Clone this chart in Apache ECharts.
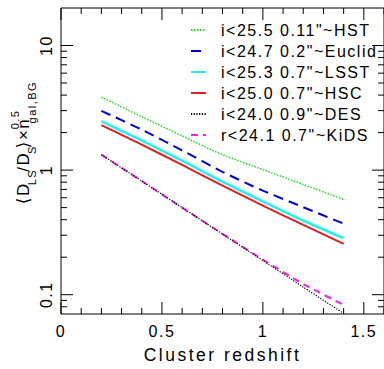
<!DOCTYPE html>
<html><head><meta charset="utf-8">
<script src="https://cdn.jsdelivr.net/npm/echarts@6/dist/echarts.min.js"></script>
<style>
html,body{margin:0;padding:0;background:#fff;}
#chart{width:384px;height:369px;}
#chart text{letter-spacing:1.5px;}
#chart text[style*="17.5px"]{letter-spacing:2.5px;}
</style></head><body><div id="chart"></div>
<script>
// ---- data ----
const redshift = [0.2, 0.4, 0.6, 0.8, 1.0, 1.2, 1.4];
const seriesNames = [
  "i<25.5 0.11\"~HST",
  "i<24.7 0.2\"~Euclid",
  "i<25.3 0.7\"~LSST",
  "i<25.0 0.7\"~HSC",
  "i<24.0 0.9\"~DES",
  "r<24.1 0.7\"~KiDS"
];
const hstValues    = [3.85, 2.68, 1.88, 1.33, 1.01, 0.767, 0.582];
const euclidValues = [2.99, 2.11, 1.44, 0.968, 0.684, 0.504, 0.372];
const lsstValues   = [2.47, 1.73, 1.19, 0.809, 0.562, 0.394, 0.284];
const hscValues    = [2.30, 1.60, 1.10, 0.750, 0.519, 0.363, 0.256];
const desValues    = [1.33, 0.817, 0.500, 0.307, 0.188, 0.115, 0.0708];
const kidsValues   = [1.33, 0.817, 0.500, 0.308, 0.191, 0.122, 0.0828];
const xTickLabels = [0, 0.5, 1, 1.5];
const yTickLabels = [0.1, 1, 10];

// ---- axis ranges ----
const X_MIN = 0, X_MAX = 1.6, Y_MIN = 0.07, Y_MAX = 20;
const FONT = "'Liberation Sans', Arial, 'DejaVu Sans', sans-serif";

// tick marks (value, isMajor, side)  side: 0 bottom,1 top,2 left,3 right
const tickData = [];
for (let i = 0; i <= 16; i++) {
  const v = i / 10;
  const major = (i % 5 === 0) ? 1 : 0;
  tickData.push([v, Y_MIN, major, 0]);
  tickData.push([v, Y_MAX, major, 1]);
}
const yMinor = [];
[0.01, 0.1, 1, 10].forEach(function (d) {
  for (let k = 1; k <= 9; k++) {
    const v = +(k * d).toPrecision(3);
    if (v > Y_MIN && v < Y_MAX) yMinor.push([v, k === 1 ? 1 : 0]);
  }
});
yMinor.forEach(function (t) {
  tickData.push([X_MIN, t[0], t[1], 2]);
  tickData.push([X_MAX, t[0], t[1], 3]);
});

function mk(name, data, color, width, dash, z) {
  return {
    name: name, type: 'line', data: redshift.map(function (x, i) { return [x, data[i]]; }),
    showSymbol: false, symbol: 'none', smooth: 0.25, z: z,
    lineStyle: { color: color, width: width, type: dash },
    itemStyle: { color: color }
  };
}

const chart = echarts.init(document.getElementById('chart'), null, { renderer: 'svg' });
chart.setOption({
  animation: false,
  backgroundColor: '#fff',
  grid: { left: 61, top: 8, width: 325.3, height: 312.7, show: true, borderColor: '#000', borderWidth: 1, backgroundColor: 'transparent' },
  legend: {
    data: seriesNames, orient: 'vertical', left: 185, top: 17,
    itemWidth: 15, itemHeight: 14, itemGap: 5, selectedMode: false,
    itemStyle: { opacity: 0 },
    textStyle: { fontFamily: FONT, fontSize: 16, color: '#000', lineHeight: 16, padding: [0, 0, 0, 10] }
  },
  xAxis: {
    type: 'value', min: X_MIN, max: X_MAX, interval: 0.5,
    axisLine: { show: false }, axisTick: { show: false }, splitLine: { show: false },
    axisLabel: { fontFamily: FONT, fontSize: 16, color: '#000', margin: 9,
      customValues: xTickLabels, formatter: function (v) { return String(v); } },
    name: 'Cluster redshift', nameLocation: 'middle', nameGap: 32,
    nameTextStyle: { fontFamily: FONT, fontSize: 17.5, color: '#000' }
  },
  yAxis: {
    type: 'log', min: Y_MIN, max: Y_MAX, logBase: 10,
    axisLine: { show: false }, axisTick: { show: false }, splitLine: { show: false },
    axisLabel: { show: false },
    name: '⟨D{s|LS}/D{s|S}⟩×n{p|0.5}{s|gal,BG}', nameLocation: 'middle', nameRotate: 90, nameGap: 24,
    nameTextStyle: { fontFamily: FONT, fontSize: 17, color: '#000', lineHeight: 28, padding: [0, 0, 0, 34],
      rich: {
        s: { fontFamily: FONT, fontSize: 11, lineHeight: 12, verticalAlign: 'bottom', color: '#000' },
        p: { fontFamily: FONT, fontSize: 11, lineHeight: 12, verticalAlign: 'top', color: '#000', width: 1 }
      } }
  },
  series: [
    mk(seriesNames[0], hstValues, '#22dd22', 1.5, [1.5, 1.5], 2),
    mk(seriesNames[1], euclidValues, '#0000cc', 2, [10, 6], 2),
    mk(seriesNames[2], lsstValues, '#22f0f0', 2.5, 'solid', 2),
    mk(seriesNames[3], hscValues, '#e02020', 2, 'solid', 2),
    mk(seriesNames[5], kidsValues, '#ee22ee', 2, [7, 5], 2),
    mk(seriesNames[4], desValues, '#000000', 1.2, [1.2, 1.5], 3),
    {
      type: 'custom', name: 'ticks', data: tickData, silent: true, z: 5, clip: false,
      encode: { x: 0, y: 1 },
      renderItem: function (params, api) {
        const p = api.coord([api.value(0), api.value(1)]);
        const len = api.value(2) ? 12 : 6;
        const side = api.value(3);
        let x2 = p[0], y2 = p[1];
        if (side === 0) y2 = p[1] - len;
        else if (side === 1) y2 = p[1] + len;
        else if (side === 2) x2 = p[0] + len;
        else x2 = p[0] - len;
        return { type: 'line', shape: { x1: p[0], y1: p[1], x2: x2, y2: y2 },
          style: { stroke: '#000', lineWidth: 1 } };
      }
    },
    {
      type: 'custom', name: 'ylabels', silent: true, z: 5, clip: false,
      data: yTickLabels.map(function (v) { return [X_MIN, v]; }),
      encode: { x: 0, y: 1 },
      renderItem: function (params, api) {
        const v = api.value(1);
        const p = api.coord([api.value(0), v]);
        return { type: 'text', x: p[0] - 15, y: p[1], rotation: Math.PI / 2,
          style: { text: String(v), fontFamily: FONT, fontSize: 16, fill: '#000',
            align: 'center', verticalAlign: 'middle' } };
      }
    }
  ]
});
</script></body></html>
